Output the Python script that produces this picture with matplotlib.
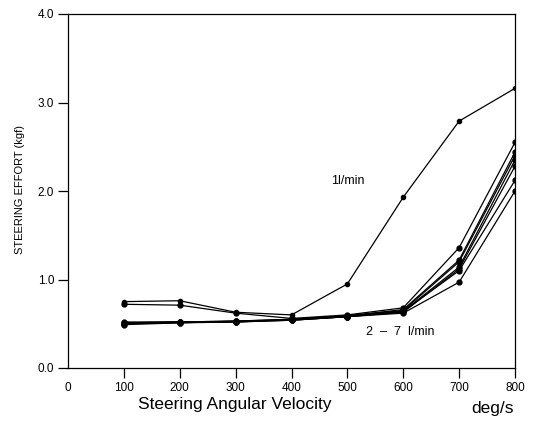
import matplotlib
matplotlib.use("Agg")
import matplotlib.pyplot as plt

plt.rcParams['font.family'] = ['Liberation Sans', 'DejaVu Sans']

velocity = [100, 200, 300, 400, 500, 600, 700, 800]
effort_1 = [0.75, 0.76, 0.63, 0.60, 0.95, 1.93, 2.79, 3.16]
effort_others = [
    [0.72, 0.71, 0.62, 0.56, 0.60, 0.68, 1.36, 2.55],
    [0.52, 0.52, 0.53, 0.55, 0.59, 0.66, 1.22, 2.44],
    [0.51, 0.52, 0.52, 0.55, 0.59, 0.65, 1.20, 2.40],
    [0.51, 0.52, 0.53, 0.54, 0.58, 0.64, 1.14, 2.35],
    [0.50, 0.51, 0.52, 0.54, 0.58, 0.63, 1.12, 2.28],
    [0.50, 0.52, 0.52, 0.54, 0.58, 0.64, 1.10, 2.12],
    [0.49, 0.51, 0.53, 0.55, 0.58, 0.62, 0.97, 2.00],
]
x_ticks = [0, 100, 200, 300, 400, 500, 600, 700, 800]
y_ticks = [0.0, 1.0, 2.0, 3.0, 4.0]

fig = plt.figure(figsize=(5.36, 4.26), dpi=100)
ax = fig.add_axes([68/536, 1 - 368/426, (515-68)/536, (368-14)/426])

ax.plot(velocity, effort_1, color='black', lw=0.9, marker='o', ms=3)
for s in effort_others:
    ax.plot(velocity, s, color='black', lw=0.9, marker='o', ms=3.5)

ax.set_xlim(0, 800)
ax.set_ylim(0, 4.0)
ax.set_xticks(x_ticks)
ax.set_xticklabels([str(t) for t in x_ticks], fontsize=8.5)
ax.set_yticks(y_ticks)
ax.set_yticklabels([f"{t:.1f}" for t in y_ticks], fontsize=8.5)
ax.tick_params(axis='both', direction='out', length=7, width=0.9, pad=3)
ax.xaxis.get_major_ticks()[0].tick1line.set_visible(False)
for sp in ax.spines.values():
    sp.set_linewidth(0.9)

ax.text(500, 2.11, "1l/min", fontsize=9, ha='center', va='center')
ax.text(594, 0.41, "2  –  7  l/min", fontsize=9, ha='center', va='center')

fig.text(20/536, 1 - 190/426, "STEERING EFFORT (kgf)", rotation=90, fontsize=8,
         ha='center', va='center')
fig.text(235/536, 1 - 405/426, "Steering Angular Velocity", fontsize=12.5,
         ha='center', va='center')
fig.text(492/536, 1 - 408/426, "deg/s", fontsize=12.5, ha='center', va='center')

fig.savefig("out.png", dpi=100)
